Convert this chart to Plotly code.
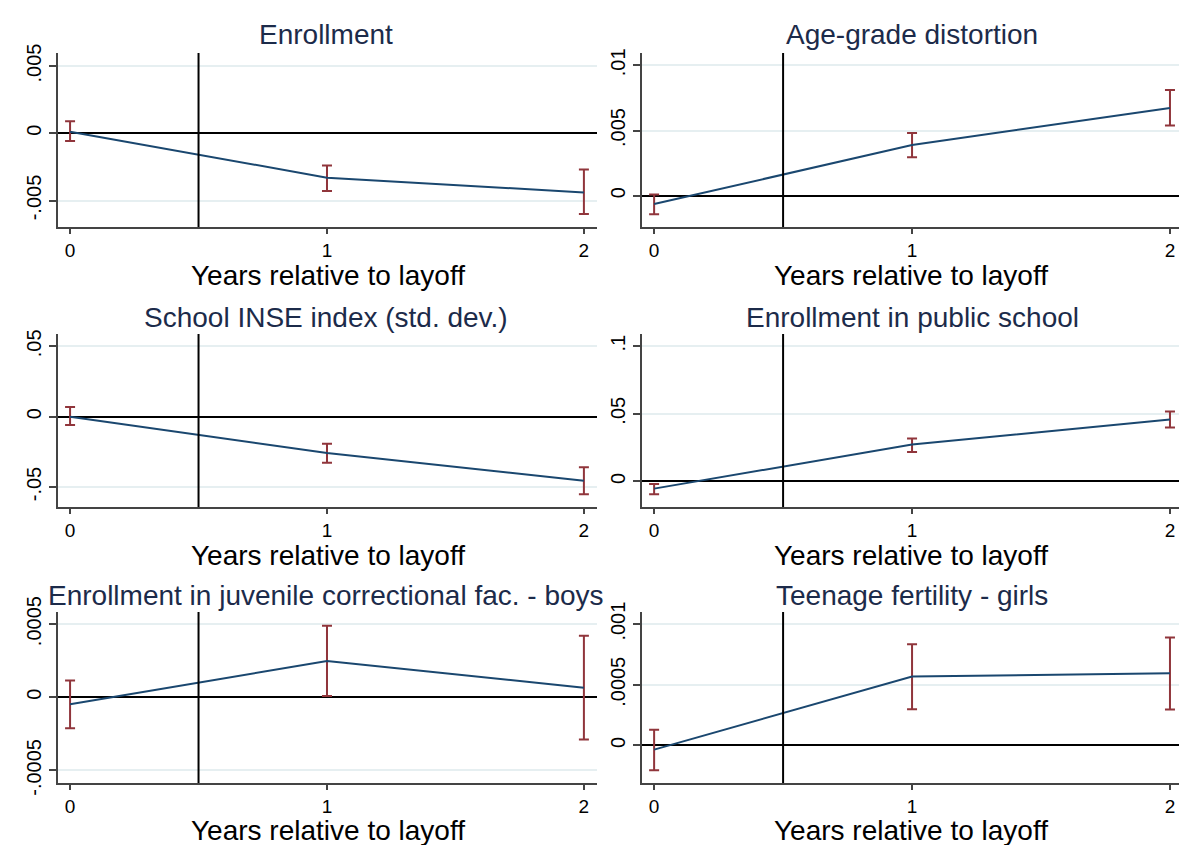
import plotly.graph_objects as go
from plotly.subplots import make_subplots

# +++++++++
# Data

years = [0, 1, 2]

titles = [
    "Enrollment",
    "Age-grade distortion",
    "School INSE index (std. dev.)",
    "Enrollment in public school",
    "Enrollment in juvenile correctional fac. - boys",
    "Teenage fertility - girls",
]
xtitle = "Years relative to layoff"

enroll_coef = [0.00012, -0.0033, -0.0044]
enroll_lo = [-0.00057, -0.0043, -0.0060]
enroll_hi = [0.0009, -0.0024, -0.0027]

agegrade_coef = [-0.00064, 0.00389, 0.00673]
agegrade_lo = [-0.00142, 0.00296, 0.00539]
agegrade_hi = [0.0001, 0.00482, 0.00812]

inse_coef = [0.0, -0.0258, -0.0455]
inse_lo = [-0.0059, -0.0327, -0.0552]
inse_hi = [0.0069, -0.0192, -0.036]

public_coef = [-0.0054, 0.0272, 0.0457]
public_lo = [-0.0096, 0.0217, 0.0398]
public_hi = [-0.002, 0.0316, 0.0516]

juvenile_coef = [-0.000047, 0.000248, 0.000065]
juvenile_lo = [-0.000212, 0.000009, -0.000288]
juvenile_hi = [0.000115, 0.000489, 0.000421]

fertility_coef = [-0.000035, 0.000568, 0.000595]
fertility_lo = [-0.000204, 0.000299, 0.000296]
fertility_hi = [0.00013, 0.000834, 0.000889]

# y tick values / labels per panel
yticks = [
    ([-0.005, 0, 0.005], ["-.005", "0", ".005"]),
    ([0, 0.005, 0.01], ["0", ".005", ".01"]),
    ([-0.05, 0, 0.05], ["-.05", "0", ".05"]),
    ([0, 0.05, 0.1], ["0", ".05", ".1"]),
    ([-0.0005, 0, 0.0005], ["-.0005", "0", ".0005"]),
    ([0, 0.0005, 0.001], ["0", ".0005", ".001"]),
]
yranges = [
    [-0.00697, 0.00597],
    [-0.0024, 0.01095],
    [-0.0642, 0.0588],
    [-0.019, 0.109],
    [-0.000586, 0.000583],
    [-0.00031, 0.0011],
]
xranges = [[-0.047, 2.051], [-0.047, 2.035]]

coefs = [enroll_coef, agegrade_coef, inse_coef, public_coef, juvenile_coef, fertility_coef]
los = [enroll_lo, agegrade_lo, inse_lo, public_lo, juvenile_lo, fertility_lo]
his = [enroll_hi, agegrade_hi, inse_hi, public_hi, juvenile_hi, fertility_hi]

# +++++++++
# Layout helpers

# page is 1187x853, body margin of 8px around the autosized div
W, H, PAD = 1187, 853, 8
FONT = "Liberation Sans, Arial, sans-serif"
NAVY = "#1a476f"
MAROON = "#90353b"
TITLE_C = "#1c2b4a"
GRID_C = "#e6eff1"


def fx(px):
    return min(1.0, max(0.0, (px - PAD) / (W - 2 * PAD)))


def fy(py):
    return min(1.0, max(0.0, 1 - (py - PAD) / (H - 2 * PAD)))


col_px = [(58, 597), (642, 1179)]
row_px = [(53, 227), (334, 507), (612, 783)]
title_y = [35, 317, 595]
title_x = [326, 912]
xtitle_y = [275, 555, 830]

fig = make_subplots(rows=3, cols=2)

for i in range(6):
    r, c = i // 2, i % 2
    coef, lo, hi = coefs[i], los[i], his[i]
    up = [h - y for h, y in zip(hi, coef)]
    dn = [y - l for y, l in zip(coef, lo)]

    # confidence intervals
    fig.add_trace(go.Scatter(
        x=years, y=coef, mode="markers",
        marker=dict(size=1, opacity=0),
        error_y=dict(type="data", symmetric=False, array=up, arrayminus=dn,
                     color=MAROON, thickness=2, width=5),
        hoverinfo="skip", showlegend=False
    ), row=r + 1, col=c + 1)

    # point estimates
    fig.add_trace(go.Scatter(
        x=years, y=coef, mode="lines",
        line=dict(color=NAVY, width=2),
        showlegend=False
    ), row=r + 1, col=c + 1)

    ax = "" if i == 0 else str(i + 1)
    x0, x1 = col_px[c]
    y0, y1 = row_px[r]
    tv, tt = yticks[i]

    fig.layout["xaxis" + ax].update(
        domain=[fx(x0), fx(x1)],
        range=xranges[c],
        tickvals=years, ticktext=[str(y) for y in years],
        ticks="outside", ticklen=5, tickcolor="#444", tickwidth=1.5,
        showline=True, linecolor="#444", linewidth=2,
        showgrid=False, zeroline=False, automargin=False,
        tickfont=dict(family=FONT, size=19, color="black"),
    )
    fig.layout["yaxis" + ax].update(
        domain=[fy(y1), fy(y0)],
        range=yranges[i],
        tickvals=tv, ticktext=tt, tickangle=-90,
        ticks="outside", ticklen=7, tickcolor="#444", tickwidth=1.5,
        showline=True, linecolor="#444", linewidth=2,
        showgrid=True, gridcolor=GRID_C, gridwidth=1.5,
        zeroline=True, zerolinecolor="black", zerolinewidth=2,
        automargin=False,
        tickfont=dict(family=FONT, size=20, color="black"),
    )

    # layoff marker between years 0 and 1
    fig.add_shape(type="line", xref="x" + ax, yref="y" + ax + " domain",
                  x0=0.5, x1=0.5, y0=0, y1=1,
                  line=dict(color="black", width=2))

    # panel title
    fig.add_annotation(
        text=titles[i], xref="paper", yref="paper",
        x=fx(title_x[c]), y=fy(title_y[r]),
        xanchor="center", yanchor="middle", showarrow=False,
        font=dict(family=FONT, size=28, color=TITLE_C)
    )

    # x axis title
    fig.add_annotation(
        text=xtitle, xref="paper", yref="paper",
        x=fx((x0 + x1) / 2), y=fy(xtitle_y[r]),
        xanchor="center", yanchor="middle", showarrow=False,
        font=dict(family=FONT, size=28, color="black")
    )

fig.update_layout(
    autosize=True,
    margin=dict(l=0, r=0, t=0, b=0),
    paper_bgcolor="white", plot_bgcolor="white",
    showlegend=False,
    font=dict(family=FONT),
)

fig.write_html("out.html")
